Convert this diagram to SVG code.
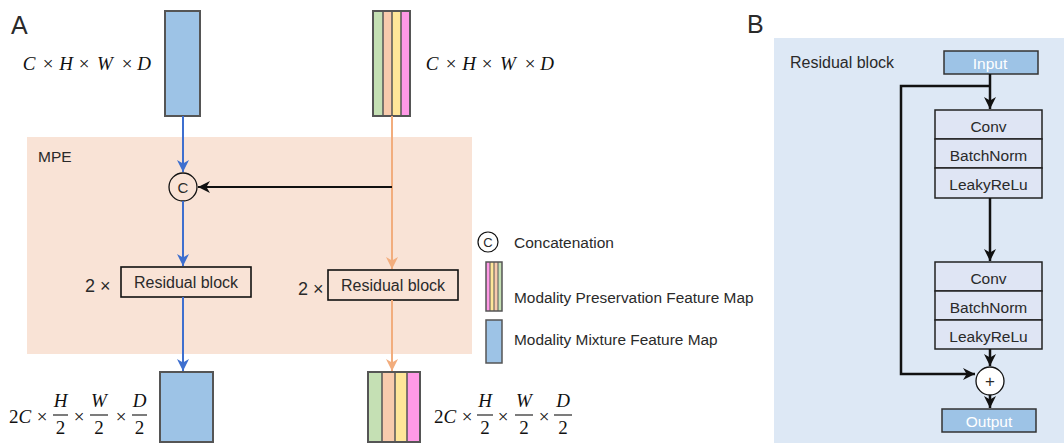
<svg xmlns="http://www.w3.org/2000/svg" width="1064" height="443" viewBox="0 0 1064 443">
<style>
.sans{font-family:"Liberation Sans",Arial,sans-serif;fill:#2a2a2a}
.math{font-family:"Liberation Serif","Times New Roman",serif;font-size:19px;fill:#111;text-anchor:middle}
.it{font-style:italic}
.fm{stroke:#555;stroke-width:2}
.blk{fill:none;stroke:#111;stroke-width:1.6}
.lay{fill:#dfe5f4;stroke:#222;stroke-width:1.5}
.frac{stroke:#111;stroke-width:1.1}
</style>
<defs>
<marker id="aBlue" markerUnits="userSpaceOnUse" markerWidth="12" markerHeight="12" refX="10" refY="5" orient="auto" viewBox="0 0 10 10"><path d="M0,0 L10,5 L0,10 L3,5 z" fill="#3e6fcf"/></marker>
<marker id="aOr" markerUnits="userSpaceOnUse" markerWidth="12" markerHeight="12" refX="10" refY="5" orient="auto" viewBox="0 0 10 10"><path d="M0,0 L10,5 L0,10 L3,5 z" fill="#f2ad7d"/></marker>
<marker id="aBk" markerUnits="userSpaceOnUse" markerWidth="12" markerHeight="12" refX="10" refY="5" orient="auto" viewBox="0 0 10 10"><path d="M0,0 L10,5 L0,10 L3,5 z" fill="#111"/></marker>
</defs>

<!-- Panel A -->
<text class="sans" x="11" y="34" font-size="25">A</text>
<rect id="mpe-bg" x="27" y="137" width="445" height="217" fill="#f9e3d6"/>
<text class="sans" x="38" y="162" font-size="15.5">MPE</text>

<g id="input-mix">
<rect x="165" y="11" width="35" height="105" fill="#9dc3e6" class="fm"/>
</g>
<g id="input-pres">
<rect x="373" y="11" width="10" height="105" fill="#c5e0b4"/>
<rect x="383" y="11" width="9" height="105" fill="#f8cbad"/>
<rect x="392" y="11" width="9" height="105" fill="#ffe699"/>
<rect x="401" y="11" width="9" height="105" fill="#ff99e6"/>
<path d="M383,11V116M392,11V116M401,11V116" stroke="#555" stroke-width="1.5"/>
<rect x="373" y="11" width="37" height="105" fill="none" class="fm"/>
</g>
<g id="dims-top-left">
<text class="math it" x="29" y="70">C</text>
<text class="math" x="48" y="70">×</text>
<text class="math it" x="66" y="70">H</text>
<text class="math" x="84" y="70">×</text>
<text class="math it" x="105" y="70">W</text>
<text class="math" x="127" y="70">×</text>
<text class="math it" x="144" y="70">D</text>
</g>
<g id="dims-top-right">
<text class="math it" x="432" y="70">C</text>
<text class="math" x="451" y="70">×</text>
<text class="math it" x="469" y="70">H</text>
<text class="math" x="487" y="70">×</text>
<text class="math it" x="508" y="70">W</text>
<text class="math" x="530" y="70">×</text>
<text class="math it" x="547" y="70">D</text>
</g>

<g id="concat">
<circle cx="183" cy="187" r="14" fill="#f9e3d6" stroke="#111" stroke-width="1.3"/>
<text class="sans" x="183" y="192.5" font-size="15" text-anchor="middle">C</text>
</g>

<g id="res-left">
<rect x="121" y="267" width="130" height="30" fill="#f9e3d6" class="blk"/>
<text class="sans" x="186" y="288" font-size="16" text-anchor="middle">Residual block</text>
<text class="sans" x="85" y="292" font-size="18">2 ×</text>
</g>
<g id="res-right">
<rect x="328" y="270" width="130" height="30" fill="#f9e3d6" class="blk"/>
<text class="sans" x="393" y="291" font-size="16" text-anchor="middle">Residual block</text>
<text class="sans" x="298" y="295" font-size="18">2 ×</text>
</g>

<g id="output-mix">
<rect x="160" y="372" width="53" height="70" fill="#9dc3e6" class="fm"/>
</g>
<g id="output-pres">
<rect x="368" y="372" width="14" height="70" fill="#c5e0b4"/>
<rect x="382" y="372" width="13" height="70" fill="#f8cbad"/>
<rect x="395" y="372" width="12" height="70" fill="#ffe699"/>
<rect x="407" y="372" width="13" height="70" fill="#ff99e6"/>
<path d="M382,372V442M395,372V442M407,372V442" stroke="#555" stroke-width="1.5"/>
<rect x="368" y="372" width="52" height="70" fill="none" class="fm"/>
</g>

<g id="dims-bottom-left">
<text class="math" x="20" y="423"><tspan>2</tspan><tspan class="it">C</tspan></text>
<text class="math" x="42" y="423">×</text>
<text class="math it" x="60.5" y="407">H</text>
<line class="frac" x1="53" y1="415" x2="68" y2="415"/>
<text class="math" x="60.5" y="434">2</text>
<text class="math" x="79" y="423">×</text>
<text class="math it" x="99" y="407">W</text>
<line class="frac" x1="90" y1="415" x2="108" y2="415"/>
<text class="math" x="99" y="434">2</text>
<text class="math" x="121" y="423">×</text>
<text class="math it" x="139.5" y="407">D</text>
<line class="frac" x1="132" y1="415" x2="147" y2="415"/>
<text class="math" x="139.5" y="434">2</text>
</g>
<g id="dims-bottom-right">
<text class="math" x="445" y="423"><tspan>2</tspan><tspan class="it">C</tspan></text>
<text class="math" x="467" y="423">×</text>
<text class="math it" x="485" y="407">H</text>
<line class="frac" x1="477" y1="415" x2="493" y2="415"/>
<text class="math" x="485" y="434">2</text>
<text class="math" x="503" y="423">×</text>
<text class="math it" x="524" y="407">W</text>
<line class="frac" x1="515" y1="415" x2="533" y2="415"/>
<text class="math" x="524" y="434">2</text>
<text class="math" x="544" y="423">×</text>
<text class="math it" x="563" y="407">D</text>
<line class="frac" x1="554" y1="415" x2="572" y2="415"/>
<text class="math" x="563" y="434">2</text>
</g>

<g id="legend">
<circle cx="488" cy="242" r="10" fill="#fff" stroke="#111" stroke-width="1.2"/>
<text class="sans" x="488" y="247" font-size="13" text-anchor="middle">C</text>
<text class="sans" x="514" y="248" font-size="15.5">Concatenation</text>
<rect x="486" y="262" width="4" height="49" fill="#ff99e6"/>
<rect x="490" y="262" width="4" height="49" fill="#ffe699"/>
<rect x="494" y="262" width="4" height="49" fill="#f8cbad"/>
<rect x="498" y="262" width="4" height="49" fill="#c5e0b4"/>
<path d="M490,262V311M494,262V311M498,262V311" stroke="#555" stroke-width="1"/>
<rect x="486" y="262" width="16" height="49" fill="none" stroke="#555" stroke-width="1.5"/>
<text class="sans" x="514" y="303" font-size="15.4">Modality Preservation Feature Map</text>
<rect x="486" y="320" width="16" height="43" fill="#9dc3e6" stroke="#555" stroke-width="1.5"/>
<text class="sans" x="514" y="345" font-size="15.4">Modality Mixture Feature Map</text>
</g>

<!-- Panel B -->
<text class="sans" x="747" y="33" font-size="25">B</text>
<rect id="res-bg" x="774" y="38" width="290" height="405" fill="#dde8f5"/>
<text class="sans" x="790" y="68" font-size="16">Residual block</text>

<g id="input">
<rect x="944" y="51" width="94" height="23" fill="#9dc3e6" stroke="#333" stroke-width="1.5"/>
<text class="sans" x="990" y="69" font-size="15.5" text-anchor="middle" style="fill:#fff">Input</text>
</g>
<g id="block1">
<rect x="935" y="110" width="107" height="29" class="lay"/>
<rect x="935" y="139" width="107" height="29" class="lay"/>
<rect x="935" y="168" width="107" height="30" class="lay"/>
<text class="sans" x="988.5" y="132" font-size="15.5" text-anchor="middle">Conv</text>
<text class="sans" x="988.5" y="161" font-size="15.5" text-anchor="middle">BatchNorm</text>
<text class="sans" x="988.5" y="190" font-size="15.5" text-anchor="middle">LeakyReLu</text>
</g>
<g id="block2">
<rect x="935" y="262" width="107" height="29" class="lay"/>
<rect x="935" y="291" width="107" height="29" class="lay"/>
<rect x="935" y="320" width="107" height="29" class="lay"/>
<text class="sans" x="988.5" y="284" font-size="15.5" text-anchor="middle">Conv</text>
<text class="sans" x="988.5" y="313" font-size="15.5" text-anchor="middle">BatchNorm</text>
<text class="sans" x="988.5" y="342" font-size="15.5" text-anchor="middle">LeakyReLu</text>
</g>
<g id="add">
<circle cx="990" cy="381" r="14" fill="#fff" stroke="#111" stroke-width="1.3"/>
<text class="sans" x="990" y="387" font-size="17" text-anchor="middle">+</text>
</g>
<g id="output">
<rect x="942" y="409" width="94" height="23" fill="#9dc3e6" stroke="#333" stroke-width="1.5"/>
<text class="sans" x="989" y="427" font-size="15.5" text-anchor="middle" style="fill:#fff">Output</text>
</g>

<g id="connectors" fill="none">
<path d="M183,116V172" stroke="#3e6fcf" stroke-width="2" marker-end="url(#aBlue)"/>
<path d="M183,201V266" stroke="#3e6fcf" stroke-width="2" marker-end="url(#aBlue)"/>
<path d="M183,297V371" stroke="#3e6fcf" stroke-width="2" marker-end="url(#aBlue)"/>
<path d="M392,116V269" stroke="#f2ad7d" stroke-width="2" marker-end="url(#aOr)"/>
<path d="M392,300V371" stroke="#f2ad7d" stroke-width="2" marker-end="url(#aOr)"/>
<path d="M392,187H198" stroke="#111" stroke-width="2.2" marker-end="url(#aBk)"/>
<path d="M990,74V109" stroke="#111" stroke-width="2.5" marker-end="url(#aBk)"/>
<path d="M990,86H901V374H975" stroke="#111" stroke-width="2.5" marker-end="url(#aBk)"/>
<path d="M990,198V261" stroke="#111" stroke-width="2.5" marker-end="url(#aBk)"/>
<path d="M990,349V366" stroke="#111" stroke-width="2.5" marker-end="url(#aBk)"/>
<path d="M990,395V408" stroke="#111" stroke-width="2.5" marker-end="url(#aBk)"/>
</g>
</svg>
